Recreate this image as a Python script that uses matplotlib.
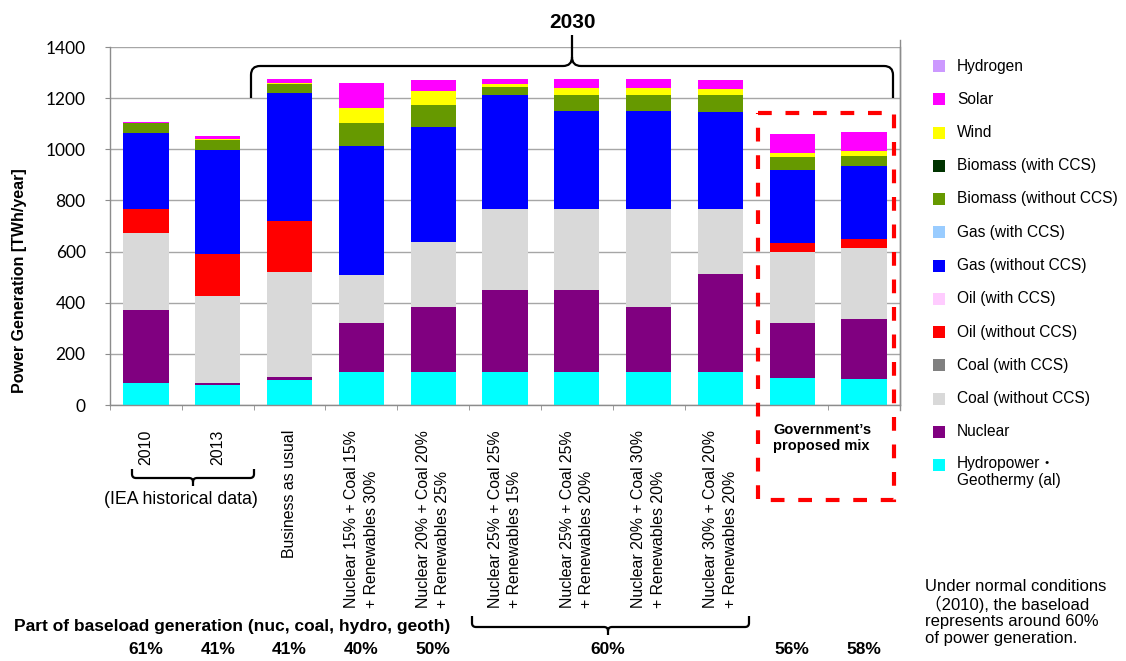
import numpy as np
import matplotlib
matplotlib.use("Agg")
import matplotlib.pyplot as plt
import matplotlib.transforms as mtransforms
from matplotlib.path import Path
from matplotlib.patches import PathPatch, Rectangle

W, H = 1126, 661

# ---------------------------------------------------------------- data
categories = [
    "2010",
    "2013",
    "Business as usual",
    "Nuclear 15% + Coal 15%\n+ Renewables 30%",
    "Nuclear 20% + Coal 20%\n+ Renewables 25%",
    "Nuclear 25% + Coal 25%\n+ Renewables 15%",
    "Nuclear 25% + Coal 25%\n+ Renewables 20%",
    "Nuclear 20% + Coal 30%\n+ Renewables 20%",
    "Nuclear 30% + Coal 20%\n+ Renewables 20%",
    "",
    "",
]

# TWh/year, one value per scenario
hydro_geo = [85, 78, 98, 130, 130, 130, 130, 130, 130, 107, 103]
nuclear = [286, 9, 10, 190, 255, 320, 320, 255, 381, 214, 235]
coal = [300, 340, 413, 188, 254, 317, 315, 383, 254, 279, 277]
coal_ccs = [0, 0, 0, 0, 0, 0, 0, 0, 0, 0, 0]
oil = [94, 162, 199, 0, 0, 0, 0, 0, 0, 32, 33]
oil_ccs = [0, 0, 0, 0, 0, 0, 0, 0, 0, 0, 0]
gas = [300, 407, 499, 505, 447, 447, 385, 382, 382, 286, 285]
gas_ccs = [0, 0, 0, 0, 0, 0, 0, 0, 0, 0, 0]
biomass = [37, 40, 36, 89, 86, 31, 64, 64, 64, 51, 42]
biomass_ccs = [0, 0, 0, 0, 0, 0, 0, 0, 0, 0, 0]
wind = [2, 5, 6, 61, 56, 12, 26, 26, 26, 15, 18]
solar = [3, 11, 13, 95, 43, 17, 35, 35, 34, 77, 76]
hydrogen = [0, 0, 0, 0, 0, 0, 0, 0, 0, 0, 0]

series_names = [
    "Hydropower\u30fb\nGeothermy (al)", "Nuclear", "Coal (without CCS)",
    "Coal (with CCS)", "Oil (without CCS)", "Oil (with CCS)",
    "Gas (without CCS)", "Gas (with CCS)", "Biomass (without CCS)",
    "Biomass (with CCS)", "Wind", "Solar", "Hydrogen",
]
series_colors = [
    "#00FFFF", "#800080", "#D9D9D9", "#808080", "#FF0000", "#FFCCFF",
    "#0000FF", "#99CCFF", "#669900", "#003300", "#FFFF00", "#FF00FF",
    "#CC99FF",
]
series_values = [
    hydro_geo, nuclear, coal, coal_ccs, oil, oil_ccs, gas, gas_ccs,
    biomass, biomass_ccs, wind, solar, hydrogen,
]

baseload_share = ["61%", "41%", "41%", "40%", "50%", "56%", "58%"]
baseload_cols = [0, 1, 2, 3, 4, 9, 10]
baseload_group = "60%"

# ---------------------------------------------------------------- figure
fig = plt.figure(figsize=(W / 100, H / 100), dpi=100)
# pixel coordinates measured from the top-left corner
px = mtransforms.Affine2D().scale(1 / 100, -1 / 100).translate(0, H / 100) + fig.dpi_scale_trans

ax = fig.add_axes([110 / W, 1 - 405 / H, 790 / W, 358 / H])

x = np.arange(len(categories))
bottom = np.zeros(len(categories))
for vals, col in zip(series_values, series_colors):
    v = np.asarray(vals, dtype=float)
    ax.bar(x, v, 0.63, bottom=bottom, color=col, linewidth=0, zorder=2)
    bottom += v

ax.set_xlim(-0.5, len(categories) - 0.5)
ax.set_ylim(0, 1400)
ax.set_yticks(np.arange(0, 1401, 200))
ax.yaxis.grid(True, color="#A6A6A6", linewidth=1.0)
ax.set_axisbelow(True)

for side in ("left", "bottom", "right"):
    ax.spines[side].set_color("#8C8C8C")
    ax.spines[side].set_linewidth(1.0)
ax.spines["top"].set_visible(False)

ax.tick_params(axis="y", length=3.5, color="#8C8C8C", pad=14,
               labelsize=12.5, labelfontfamily="Lato")
ax.set_xticks(x)
ax.set_xticklabels(categories, rotation=90, fontsize=11.45,
                   fontfamily="Liberation Sans")
ax.tick_params(axis="x", which="major", length=0, pad=18)
ax.set_xticks(np.arange(-0.5, len(categories)), minor=True)
ax.tick_params(axis="x", which="minor", length=3.5, color="#8C8C8C")
for lab in ax.get_xticklabels():
    lab.set_multialignment("left")
    lab.set_linespacing(1.38)

fig.text(20, 281, "Power Generation [TWh/year]", transform=px, rotation=90,
         ha="center", va="center", fontsize=11.5, fontweight="bold",
         fontfamily="Liberation Sans")


# ---------------------------------------------------------------- braces
def brace(x0, x1, xm, y_line, y_end, y_tip, r=8, lw=1.6):
    s = 1 if y_end > y_line else -1
    t = 1 if y_tip > y_line else -1
    verts = [
        (x0, y_end), (x0, y_line + s * r), (x0, y_line), (x0 + r, y_line),
        (xm - r, y_line), (xm, y_line), (xm, y_line + t * r), (xm, y_tip),
        (xm, y_line + t * r), (xm, y_line), (xm + r, y_line),
        (x1 - r, y_line), (x1, y_line), (x1, y_line + s * r), (x1, y_end),
    ]
    codes = [Path.MOVETO, Path.LINETO, Path.CURVE3, Path.CURVE3,
             Path.LINETO, Path.CURVE3, Path.CURVE3, Path.LINETO,
             Path.MOVETO, Path.CURVE3, Path.CURVE3,
             Path.LINETO, Path.CURVE3, Path.CURVE3, Path.LINETO]
    fig.add_artist(PathPatch(Path(verts, codes), transform=px, fill=False,
                             edgecolor="black", linewidth=lw,
                             capstyle="butt", joinstyle="round"))


brace(251, 893, 572, 66, 98, 35, r=9)
brace(132, 254, 193, 478, 469, 486, r=4)
brace(472, 749, 608, 627, 616, 635, r=4)

fig.text(572, 22, "2030", transform=px, ha="center", va="center",
         fontsize=15, fontweight="bold", fontfamily="Liberation Sans")
fig.text(181, 499, "(IEA historical data)", transform=px, ha="center",
         va="center", fontsize=12.8, fontfamily="Liberation Sans")

# frame line on the right of the plot area
fig.add_artist(plt.Line2D([900, 900], [40, 410], transform=px,
                          color="#8C8C8C", linewidth=1.0))

# government proposal highlight
fig.add_artist(Rectangle((757.5, 112.5), 136.5, 387.5, transform=px,
                         fill=False, edgecolor="#FF0000", linewidth=3,
                         linestyle=(0, (3.3, 3.3))))
fig.text(773, 423, "Government\u2019s\nproposed mix", transform=px,
         ha="left", va="top", fontsize=10.5, fontweight="bold",
         fontfamily="Liberation Sans", linespacing=1.2)

# ---------------------------------------------------------------- legend
for i, idx in enumerate(range(len(series_names) - 1, -1, -1)):
    yy = 66 + 33.25 * i
    fig.add_artist(Rectangle((933, yy - 6), 12, 12, transform=px,
                             facecolor=series_colors[idx], edgecolor="none"))
    name = series_names[idx]
    if "\n" in name:
        fig.text(957, yy - 9, name, transform=px, ha="left", va="top",
                 fontsize=11.2, linespacing=1.15,
                 fontfamily=["Liberation Sans", "Noto Sans CJK JP"])
    else:
        fig.text(957, yy, name, transform=px, ha="left", va="center",
                 fontsize=11.2, fontfamily="Liberation Sans")

# ---------------------------------------------------------------- baseload row
fig.text(14, 626, "Part of baseload generation (nuc, coal, hydro, geoth)",
         transform=px, ha="left", va="center", fontsize=12.5,
         fontweight="bold", fontfamily="Liberation Sans")
x_px = lambda c: 110 + (c + 0.5) * 790 / len(categories)
for lab, c in zip(baseload_share, baseload_cols):
    fig.text(x_px(c), 649, lab, transform=px, ha="center", va="center",
             fontsize=12.5, fontweight="bold", fontfamily="Liberation Sans")
fig.text(608, 649, baseload_group, transform=px, ha="center", va="center",
         fontsize=12.5, fontweight="bold", fontfamily="Liberation Sans")

fig.text(925, 579, "Under normal conditions\n\uff082010), the baseload\n"
         "represents around 60%\nof power generation.", transform=px,
         ha="left", va="top", fontsize=12, linespacing=1.12,
         fontfamily=["Liberation Sans", "Noto Sans CJK JP"])

fig.savefig("out.png", dpi=100, facecolor="white")
